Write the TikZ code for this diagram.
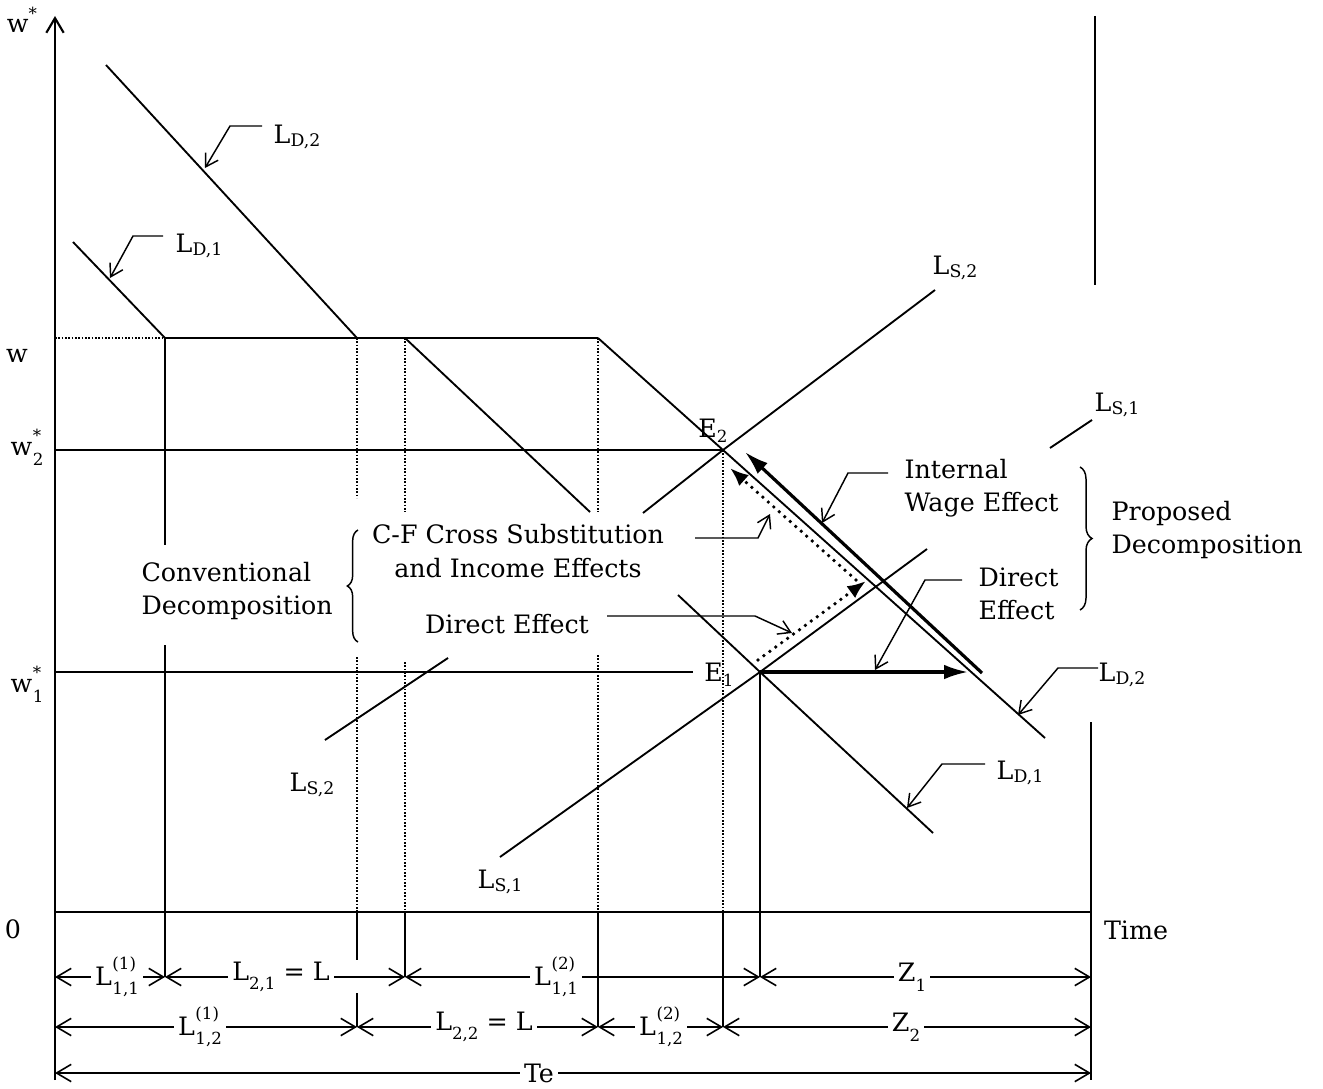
\documentclass[tikz,border=0pt]{standalone}
\usepackage{fontspec}
\setmainfont{DejaVu Serif}
\usetikzlibrary{arrows.meta,decorations.pathreplacing}
\newcommand{\smf}{\fontsize{12.5}{12.5}\selectfont}
\newcommand{\Lsub}[1]{L\raisebox{-0.12em}{\fontsize{13}{13}\selectfont #1}}
\newcommand{\Lstk}[2]{L\kern0.5pt\makebox[0pt][l]{\raisebox{0.62em}{\smf(#1)}}\raisebox{-0.38em}{\smf #2}}
\newcommand{\dn}[1]{\raisebox{-0.38em}{\smf #1}}
\newcommand{\wst}[1]{w\kern0.5pt\makebox[0pt][l]{\raisebox{0.55em}{\smf *}}\raisebox{-0.4em}{\smf #1}}
\begin{document}
\begin{tikzpicture}[x=0.75pt,y=-0.75pt,
  every node/.style={font=\fontsize{19}{25}\selectfont, inner sep=1pt},
  thinl/.style={line width=1.1pt},
  curve/.style={line width=1.4pt},
  axisl/.style={line width=1.6pt},
  dotl/.style={line width=1.1pt, dash pattern=on 1.2pt off 1.3pt},
  leader/.style={line width=1.1pt, -{Straight Barb[length=9pt,width=11pt]}},
  dim/.style={line width=1.2pt, {Straight Barb[length=11pt,width=13pt]}-{Straight Barb[length=11pt,width=13pt]}},
  dimlab/.style={fill=white, inner sep=3pt},
  bigarrow/.style={line width=2.4pt, -{Latex[length=18pt,width=11pt]}},
  dotarrow/.style={line width=2.8pt, line cap=round, dash pattern=on 0pt off 5.5pt, -{Latex[length=14pt,width=11pt]}},
  txt/.style={align=left}]
\useasboundingbox (0,0) rectangle (1323,1088);

% key points
\coordinate (O) at (55,912);
\coordinate (AxTop) at (55,16);
\coordinate (AxBot) at (55,1080);
\coordinate (TEnd) at (1091,912);
\coordinate (E1) at (760,672);
\coordinate (E2) at (723,450);
\coordinate (Kw1) at (165,338);
\coordinate (Kw2) at (357,338);
\coordinate (Kw3) at (405,338);
\coordinate (Kw4) at (598,338);

% axes
\draw[axisl, -{Straight Barb[length=11pt,width=13pt]}] (AxBot) -- (AxTop);
\draw[axisl] (O) -- (TEnd);
\draw[axisl] (1091,722) -- (1091,1080);
\draw[axisl] (1095,16) -- (1095,285);

% horizontal levels
\draw[dotl] (55,338) -- (Kw1);
\draw[line width=2.2pt] (Kw1) -- (Kw4);
\draw[thinl] (55,450) -- (E2);
\draw[thinl] (55,672) -- (693,672);

% vertical guides
\draw[thinl] (Kw1) -- (165,545);
\draw[thinl] (165,645) -- (165,977);
\draw[dotl] (Kw2) -- (357,498);
\draw[dotl] (357,657) -- (357,912);
\draw[thinl] (357,912) -- (357,960);
\draw[thinl] (357,993) -- (357,1027);
\draw[dotl] (Kw3) -- (405,512);
\draw[dotl] (405,662) -- (405,912);
\draw[thinl] (405,912) -- (405,977);
\draw[dotl] (Kw4) -- (598,512);
\draw[dotl] (598,655) -- (598,912);
\draw[thinl] (598,912) -- (598,1027);
\draw[dotl] (E2) -- (723,912);
\draw[thinl] (723,912) -- (723,1027);
\draw[thinl] (E1) -- (760,977);

% demand curves
\draw[curve] (106,65) -- (Kw2);
\draw[curve] (73,242) -- (Kw1);
\draw[curve] (Kw3) -- (590,512);
\draw[curve] (Kw4) -- (E2) -- (1045,738);
\draw[curve] (678,595) -- (E1) -- (933,833);
% supply curves
\draw[curve] (500,857) -- (E1) -- (927,549);
\draw[curve] (1050,448) -- (1092,420);
\draw[curve] (325,740) -- (448,658);
\draw[curve] (643,513) -- (E2) -- (935,290);

% effect arrows
\draw[bigarrow] (982,673) -- (745,452);
\draw[bigarrow] (E1) -- (968,672);
\draw[dotarrow] (758,660) -- (866,581);
\draw[dotarrow] (856,580) -- (730,468);

% leaders
\draw[leader] (262,126) -- (230,126) -- (205,168);
\draw[leader] (163,236) -- (133,236) -- (110,278);
\draw[leader] (695,538) -- (758,538) -- (770,514);
\draw[leader] (607,616) -- (755,616) -- (792,633);
\draw[leader] (888,473) -- (848,473) -- (822,523);
\draw[leader] (962,580) -- (925,580) -- (875,670);
\draw[leader] (1098,668) -- (1058,668) -- (1018,715);
\draw[leader] (985,764) -- (942,764) -- (907,808);

% braces
\draw[line width=1.1pt, decorate, decoration={brace, amplitude=8pt}] (358,642) -- (358,530);
\draw[line width=1.1pt, decorate, decoration={brace, amplitude=9pt}] (1080,467) -- (1080,610);

% dimension rows
\draw[dim] (55,977) -- (165,977);
\draw[dim] (165,977) -- (405,977);
\draw[dim] (405,977) -- (760,977);
\draw[dim] (760,977) -- (1091,977);
\draw[dim] (55,1027) -- (357,1027);
\draw[dim] (357,1027) -- (598,1027);
\draw[dim] (598,1027) -- (723,1027);
\draw[dim] (723,1027) -- (1091,1027);
\draw[dim] (55,1073) -- (1091,1073);

\node[dimlab] (r1a) at (117,977) {\Lstk{1}{1,1}};
\node[dimlab] (r1b) at (281,977) {L\dn{2,1} = L};
\node[dimlab] (r1c) at (556,977) {\Lstk{2}{1,1}};
\node[dimlab] (r1d) at (912,977) {Z\dn{1}};
\node[dimlab] (r2a) at (200,1027) {\Lstk{1}{1,2}};
\node[dimlab] (r2b) at (484,1027) {L\dn{2,2} = L};
\node[dimlab] (r2c) at (661,1027) {\Lstk{2}{1,2}};
\node[dimlab] (r2d) at (906,1027) {Z\dn{2}};
\node[dimlab] (r3) at (539,1073) {Te};

% axis labels
\node (wstar) at (22,20) {w\raisebox{0.5em}{\smf *}};
\node (wlab) at (17,356) {w};
\node (w2lab) at (27,447) {\wst{2}};
\node (w1lab) at (27,684) {\wst{1}};
\node (zero) at (13,929) {0};
\node (time) at (1136,930) {Time};

% curve labels
\node (lD2a) at (297,137) {\Lsub{D,2}};
\node (lD1a) at (199,246) {\Lsub{D,1}};
\node (lS2b) at (955,268) {\Lsub{S,2}};
\node (lS1b) at (1117,405) {\Lsub{S,1}};
\node (lD2b) at (1122,675) {\Lsub{D,2}};
\node (lD1b) at (1020,773) {\Lsub{D,1}};
\node (lS2a) at (312,785) {\Lsub{S,2}};
\node (lS1a) at (500,882) {\Lsub{S,1}};
\node (e2lab) at (713,431) {E\raisebox{-0.2em}{\smf 2}};
\node (e1lab) at (719,675) {E\raisebox{-0.2em}{\smf 1}};

% texts
\node[txt, anchor=west] (conv) at (140,591) {Conventional\\Decomposition};
\node[align=center] (cf) at (518,551) {C-F Cross Substitution\\and Income Effects};
\node (de1) at (507,624) {Direct Effect};
\node[txt, anchor=west] (iwe) at (903,488) {Internal\\Wage Effect};
\node[txt, anchor=west] (de2) at (977,594) {Direct\\Effect};
\node[txt, anchor=west] (prop) at (1110,530) {Proposed\\Decomposition};
\end{tikzpicture}
\end{document}
